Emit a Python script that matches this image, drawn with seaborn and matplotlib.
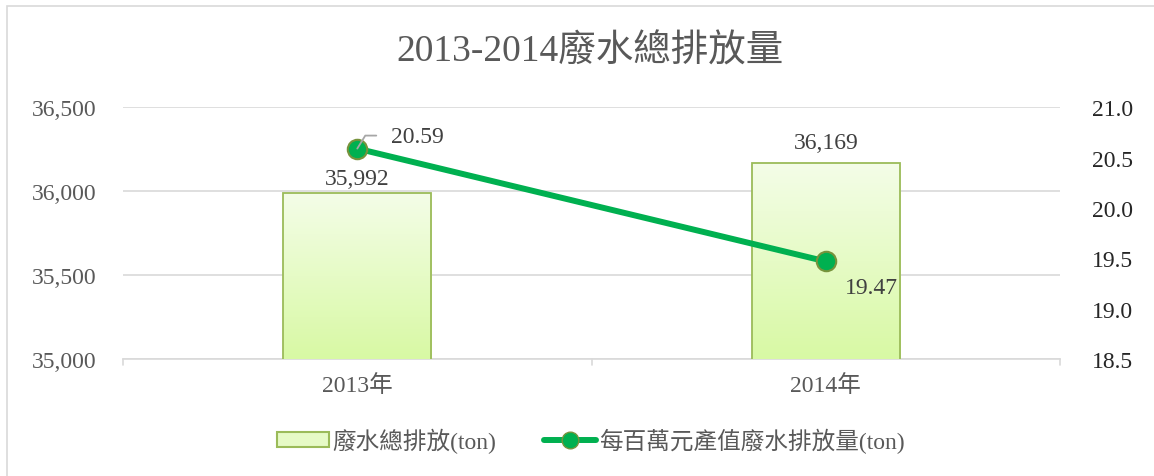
import numpy as np
import pandas as pd
import matplotlib
matplotlib.use('Agg')
import matplotlib.pyplot as plt
import seaborn as sns
from matplotlib.colors import LinearSegmentedColormap
from matplotlib.lines import Line2D
from matplotlib.patches import Patch, Rectangle
from matplotlib.ticker import FuncFormatter
from matplotlib.transforms import IdentityTransform

years = ['2013年', '2014年']
total_discharge = [35992, 36169]
per_million = [20.59, 19.47]
bar_label = '廢水總排放(ton)'
line_label = '每百萬元產值廢水排放量(ton)'
title = '2013-2014廢水總排放量'

sns.set_theme(style='white')
plt.rcParams['font.family'] = ['Liberation Serif', 'Noto Sans CJK TC', 'DejaVu Sans']

FS = 17
df = pd.DataFrame({'year': years, 'total': total_discharge, 'rate': per_million})

fig = plt.figure(figsize=(11.54, 4.77), dpi=100)
ax = fig.add_axes([0.1066, 0.245, 0.812, 0.528])

# chart frame
fig.patches.append(Rectangle((0.006, -0.1), 1.1, 1.085, transform=fig.transFigure,
                             fill=False, edgecolor='#d9d9d9', lw=1.2))

sns.barplot(data=df, x='year', y='total', ax=ax, width=0.316,
            color='#e6fac6', edgecolor='#9bbb59', linewidth=1.3, zorder=3)
ax.set_ylim(35000, 36500)
ax.set_xlim(-0.5, 1.5)
ax.set_yticks([35000, 35500, 36000, 36500])
ax.yaxis.set_major_formatter(FuncFormatter(lambda v, p: f'{int(v):,}'))
ax.grid(axis='y', color='#d9d9d9', lw=1.2, zorder=0)
ax.set_axisbelow(True)
for s in ['top', 'right', 'left']:
    ax.spines[s].set_visible(False)
ax.spines['bottom'].set_color('#d9d9d9')
ax.spines['bottom'].set_linewidth(1.2)
ax.set_xlabel('')
ax.set_ylabel('')
ax.tick_params(axis='y', length=0, labelsize=FS, labelcolor='#595959', pad=19)
ax.tick_params(axis='x', length=0, labelsize=FS, labelcolor='#595959', pad=11)
# category boundary ticks
for xb in [-0.5, 0.5, 1.5]:
    ax.plot([xb, xb], [0, -0.025], transform=ax.get_xaxis_transform(),
            color='#d9d9d9', lw=1.2, clip_on=False)

# gradient fill for bars
cmap = LinearSegmentedColormap.from_list('g', ['#d8f9a4', '#f4fde8'])
grad = np.linspace(0, 1, 256).reshape(-1, 1)
label_gap = [6, 11]
for bar, val, gap in zip(ax.patches, total_discharge, label_gap):
    x0 = bar.get_x()
    w = bar.get_width()
    im = ax.imshow(grad, cmap=cmap, origin='lower', aspect='auto',
                   extent=[x0, x0 + w, 35000, val], zorder=3)
    im.set_clip_path(bar)
    bar.set_facecolor('none')
    bar.set_zorder(4)
    ax.annotate(f'{val:,}', xy=(x0 + w / 2, val), xytext=(0, gap),
                textcoords='offset points', ha='center', va='baseline',
                fontsize=FS, color='#404040')
ax.set_xlim(-0.5, 1.5)
ax.set_ylim(35000, 36500)

ax2 = ax.twinx()
sns.lineplot(data=df, x='year', y='rate', ax=ax2, color='#00b050', lw=4.3,
             marker='o', markersize=14, markerfacecolor='#00b050',
             markeredgecolor='#77933c', markeredgewidth=1.5, zorder=5)
ax2.set_ylim(18.5, 21.0)
ax2.set_xlim(-0.5, 1.5)
ax2.set_yticks([18.5, 19.0, 19.5, 20.0, 20.5, 21.0])
ax2.yaxis.set_major_formatter(FuncFormatter(lambda v, p: f'{v:.1f}'))
for s in ax2.spines.values():
    s.set_visible(False)
ax2.set_ylabel('')
ax2.tick_params(axis='y', length=0, labelsize=FS, labelcolor='#262626', pad=23)

# line data labels (offsets in points)
ax2.annotate(f'{per_million[0]:.2f}', xy=(0, per_million[0]), xytext=(24, 9),
             textcoords='offset points', fontsize=FS, color='#404040',
             ha='left', va='center')
px, py = ax2.transData.transform((0, per_million[0]))
ax2.add_line(Line2D([px, px + 8, px + 19], [py, py + 13, py + 13], color='#a6a6a6',
                    lw=1.3, transform=IdentityTransform(), zorder=6))
ax2.annotate(f'{per_million[1]:.2f}', xy=(1, per_million[1]), xytext=(33, -19),
             textcoords='offset points', fontsize=FS, color='#404040',
             ha='center', va='center')

fig.text(0.5115, 0.891, title, ha='center', va='center', fontsize=27, color='#595959')

handles = [Patch(facecolor='#e6fac6', edgecolor='#9bbb59', lw=1.5),
           Line2D([0], [0], color='#00b050', lw=4.3, marker='o', markersize=12,
                  markerfacecolor='#00b050', markeredgecolor='#77933c')]
fig.legend(handles, [bar_label, line_label], loc='center', bbox_to_anchor=(0.512, 0.075),
           ncol=2, frameon=False, fontsize=FS, labelcolor='#595959',
           handlelength=2.2, handleheight=0.55, columnspacing=2.0, handletextpad=0.15)

fig.savefig('out.png', dpi=100)
